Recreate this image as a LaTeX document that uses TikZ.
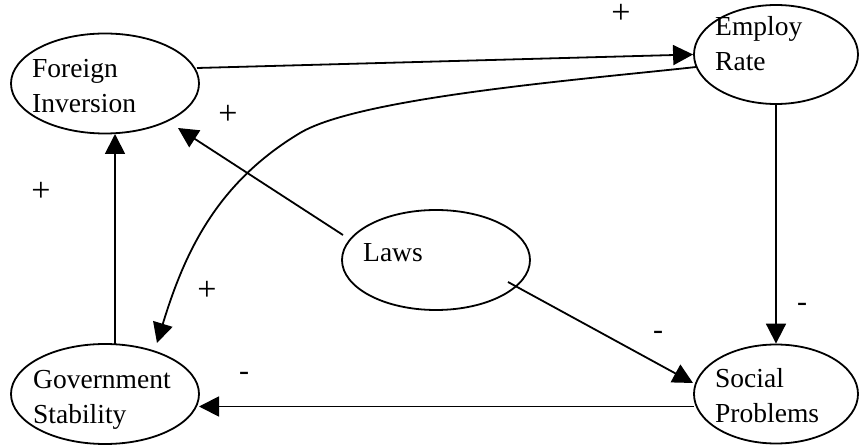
\documentclass[tikz,border=0pt]{standalone}
\usepackage{fontspec}
\setmainfont{Liberation Serif}
\usetikzlibrary{arrows.meta,calc,shapes.geometric}
\newcommand{\mytwolines}[2]{\vtop{\hbox{#1}\hbox{#2}}}
\begin{document}
\begin{tikzpicture}[x=1pt,y=-1pt,
  ell/.style={draw, ellipse, line width=1.8pt, inner sep=0pt},
  wide/.style={ell, minimum width=188pt, minimum height=100pt},
  narrow/.style={ell, minimum width=164pt, minimum height=99pt},
  txt/.style={inner sep=0pt, anchor=base west, font=\fontsize{27.5}{35}\selectfont},
  plus/.style={inner sep=0pt, anchor=base, font=\fontsize{34}{35}\selectfont},
  minus/.style={inner sep=0pt, anchor=base, font=\fontsize{30}{35}\selectfont},
  conn/.style={line width=1.8pt, -{Triangle[length=20pt,width=20pt]}}]
\useasboundingbox (0,0) rectangle (860,446);
\fill[white] (0,0) rectangle (860,446);
% ellipses
\node[wide]   (fi) at (105,83.5) {};
\node[narrow] (er) at (776,54.5) {};
\node[wide]   (lw) at (436,260) {};
\node[wide]   (gs) at (105,394) {};
\node[narrow] (sp) at (776,394) {};
% texts
\node[txt] (fiT) at ($(fi)+(-73,-5.5)$) {\mytwolines{Foreign}{Inversion}};
\node[txt] (erT) at ($(er)+(-61,-18.5)$) {\mytwolines{Employ}{Rate}};
\node[txt] (lwT) at ($(lw)+(-73,2)$) {Laws};
\node[txt] (gsT) at ($(gs)+(-72,-5)$) {\mytwolines{Government}{Stability}};
\node[txt] (spT) at ($(sp)+(-61,-6)$) {\mytwolines{Social}{Problems}};
% connectors
\draw[conn] ($(fi)+(92,-15.5)$) -- (er.west);
\draw[conn] ($(er)+(-80,12.5)$) .. controls (588,79) and (360,97) .. (300,133)
            .. controls (217.5,182.5) and (185,251) .. ($(gs)+(52,-51)$);
\draw[conn] ($(lw)+(-93,-25)$) -- ($(fi)+(73,44.5)$);
\draw[conn] ($(lw)+(72,22)$) -- ($(sp)+(-83,-11)$);
\draw[conn] (er.south) -- (sp.north);
\draw[conn] ($(sp)+(-82,12.5)$) -- ($(gs)+(94,12.5)$);
\draw[conn] ($(gs)+(10,-49)$) -- ($(fi)+(10,50.5)$);
% signs
\node[plus] (s1) at (621,24) {+};
\node[plus] (s2) at (228,125) {+};
\node[plus] (s3) at (41,202) {+};
\node[plus] (s4) at (207,301) {+};
\node[minus] (s5) at (244,381) {-};
\node[minus] (s6) at (658,340) {-};
\node[minus] (s7) at (802,312) {-};
\end{tikzpicture}
\end{document}
